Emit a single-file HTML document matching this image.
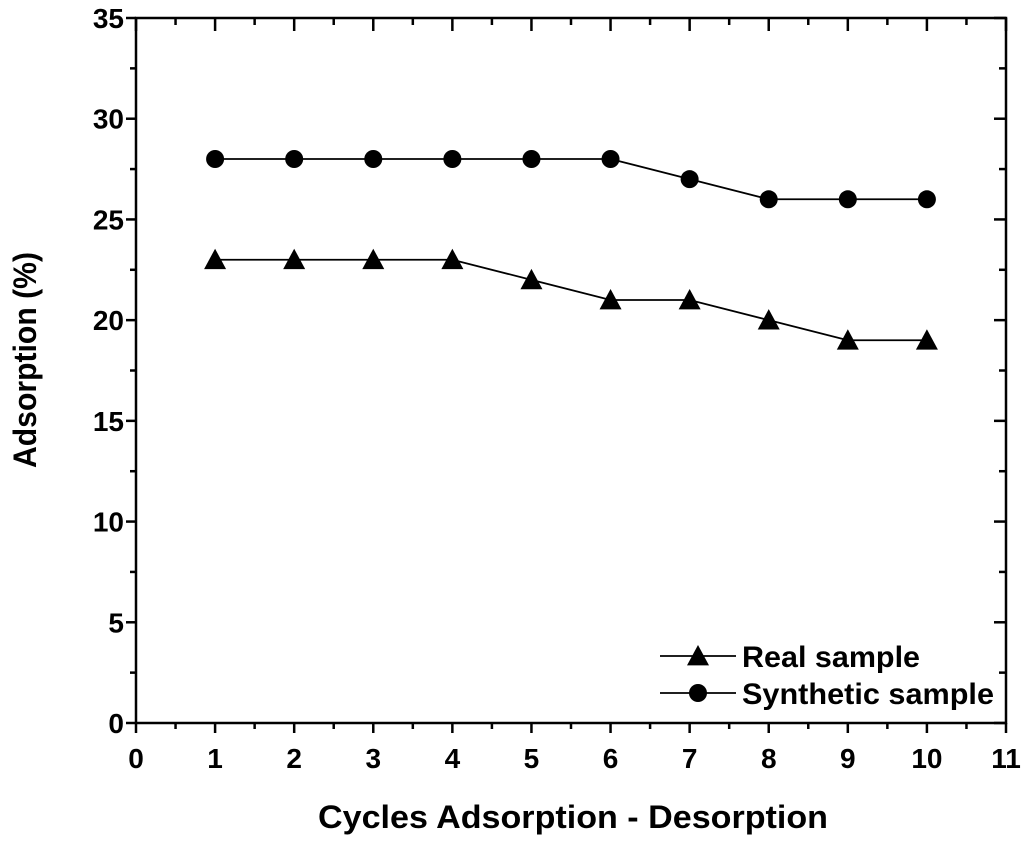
<!DOCTYPE html>
<html><head><meta charset="utf-8"><style>
html,body{margin:0;padding:0;background:#fff;}
svg{display:block;font-family:"Liberation Sans",Arial,sans-serif;font-weight:bold;}
</style></head><body>
<svg id="chart" width="1024" height="846"></svg>
<script>
const cycles=[1,2,3,4,5,6,7,8,9,10];
const realSample=[23,23,23,23,22,21,21,20,19,19];
const syntheticSample=[28,28,28,28,28,28,27,26,26,26];
const xTicks=[0,1,2,3,4,5,6,7,8,9,10,11];
const yTicks=[0,5,10,15,20,25,30,35];
const L=136,R=1006,T=18,B=723;
const X=v=>L+(v-0)/(11-0)*(R-L);
const Y=v=>B-(v-0)/(35-0)*(B-T);
const svg=document.getElementById('chart');
const NS='http://www.w3.org/2000/svg';
function mk(tag,attrs,parent){const e=document.createElementNS(NS,tag);for(const k in attrs)e.setAttribute(k,attrs[k]);(parent||svg).appendChild(e);return e;}
let e;
e=mk('rect',{x:L,y:T,width:R-L,height:B-T,fill:'none',stroke:'#000','stroke-width':2.5});


xTicks.forEach((t,i)=>{
  const x=X(t);
  mk('line',{x1:x,x2:x,y1:B,y2:B+10,stroke:'#000','stroke-width':2.5});
  mk('line',{x1:x,x2:x,y1:T,y2:T+13,stroke:'#000','stroke-width':2.5});
  if(i<xTicks.length-1){const xm=X(t+0.5);
    mk('line',{x1:xm,x2:xm,y1:B,y2:B+6,stroke:'#000','stroke-width':2.5});
    mk('line',{x1:xm,x2:xm,y1:T,y2:T+7,stroke:'#000','stroke-width':2.5});}
  e=mk('text',{x:x,y:768,'text-anchor':'middle','font-size':28});
  e.textContent=t;
  
  
});
yTicks.forEach((t,i)=>{
  const y=Y(t);
  mk('line',{x1:L-10,x2:L,y1:y,y2:y,stroke:'#000','stroke-width':2.5});
  mk('line',{x1:R-12,x2:R,y1:y,y2:y,stroke:'#000','stroke-width':2.5});
  if(i<yTicks.length-1){const ym=Y(t+2.5);
    mk('line',{x1:L-6,x2:L,y1:ym,y2:ym,stroke:'#000','stroke-width':2.5});
    mk('line',{x1:R-7,x2:R,y1:ym,y2:ym,stroke:'#000','stroke-width':2.5});}
  e=mk('text',{x:L-12,y:y+10,'text-anchor':'end','font-size':28});
  e.textContent=t;
  
  
});
e=mk('text',{x:318,y:828,'font-size':32,textLength:510,lengthAdjust:'spacingAndGlyphs'});
e.textContent='Cycles Adsorption - Desorption';


e=mk('text',{x:0,y:0,'font-size':32,textLength:216,lengthAdjust:'spacingAndGlyphs',transform:'translate(36,468) rotate(-90)'});
e.textContent='Adsorption (%)';


function tri(x,y,name){const s=11;const p=mk('polygon',{points:`${x},${y-s} ${x-s},${y+s*0.85} ${x+s},${y+s*0.85}`,fill:'#000'});}
function dot(x,y,name){const c=mk('circle',{cx:x,cy:y,r:9,fill:'#000'});}
e=mk('polyline',{points:cycles.map((c,i)=>X(c)+','+Y(realSample[i])).join(' '),fill:'none',stroke:'#000','stroke-width':1.8});


e=mk('polyline',{points:cycles.map((c,i)=>X(c)+','+Y(syntheticSample[i])).join(' '),fill:'none',stroke:'#000','stroke-width':1.8});


cycles.forEach((c,i)=>{tri(X(c),Y(realSample[i]),'real-sample-point');dot(X(c),Y(syntheticSample[i]),'synthetic-sample-point');});
mk('line',{x1:660,x2:736,y1:656,y2:656,stroke:'#000','stroke-width':1.8});
tri(698,656,'legend-real-marker');
e=mk('text',{x:742,y:667,'font-size':30,textLength:178,lengthAdjust:'spacingAndGlyphs'});e.textContent='Real sample';


mk('line',{x1:660,x2:736,y1:693,y2:693,stroke:'#000','stroke-width':1.8});
dot(698,693,'legend-synthetic-marker');
e=mk('text',{x:742,y:704,'font-size':30,textLength:252,lengthAdjust:'spacingAndGlyphs'});e.textContent='Synthetic sample';


</script>
</body></html>
